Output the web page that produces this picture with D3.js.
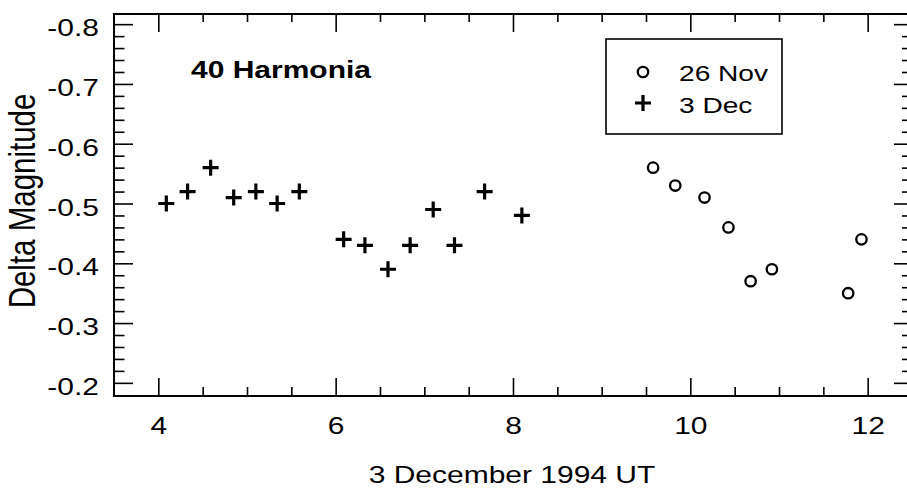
<!DOCTYPE html>
<meta charset="utf-8">
<script src="https://d3js.org/d3.v7.min.js"></script>
<body style="margin:0;background:#fff;">
<svg width="907" height="489"></svg>
<style type="text/css">
svg text{
    font-family: 'Liberation Sans', Arial, Helvetica, sans-serif;
    fill: #000;
}
.tick line{
    stroke: #000;
    stroke-width: 1.6;
}
</style>
<script>
    // 3 Dec 1994 session (plus signs)
    const HOURS_DEC3 = [4.09, 4.33, 4.59, 4.85, 5.10, 5.34, 5.59, 6.09, 6.33, 6.59, 6.84, 7.10, 7.34, 7.68, 8.10];
    const MAG_DEC3   = [-0.50, -0.52, -0.56, -0.51, -0.52, -0.50, -0.52, -0.44, -0.43, -0.39, -0.43, -0.49, -0.43, -0.52, -0.48];
    // 26 Nov 1994 session (open circles)
    const HOURS_NOV26 = [9.58, 9.83, 10.16, 10.43, 10.68, 10.92, 11.78, 11.93];
    const MAG_NOV26   = [-0.56, -0.53, -0.51, -0.46, -0.37, -0.39, -0.35, -0.44];

    const X_TICKS = [4, 6, 8, 10, 12];
    const Y_TICKS = [-0.8, -0.7, -0.6, -0.5, -0.4, -0.3, -0.2];
    const LEGEND = ['26 Nov', '3 Dec'];
    const TITLE = '40 Harmonia';
    const X_LABEL = '3 December 1994 UT';
    const Y_LABEL = 'Delta Magnitude';

    const X_DOMAIN = [3.5, 12.5],
        Y_DOMAIN = [-0.178, -0.817];

    const X_MINOR = d3.range(4.5, 12.01, 0.5).filter(v => X_TICKS.indexOf(v) < 0);
    const Y_MINOR = d3.range(-0.78, -0.21, 0.02).map(v => Math.round(v*100)/100)
        .filter(v => Math.abs(v*10 - Math.round(v*10)) > 1e-6);

    var pLeft = 114, pRight = 912, pTop = 14, pBottom = 396,
        stretch = 'scale(1.25,1)';  // glyphs in the scan are wide

    var x = d3.scaleLinear().domain(X_DOMAIN).range([pLeft, pRight]);
    var y = d3.scaleLinear().domain(Y_DOMAIN).range([pBottom, pTop]);

    var svg = d3.select('svg');

    /* ----------- ticks ----------- */
    function minor(axis, vals, size){
        return axis.tickValues(vals).tickSize(size).tickFormat('');
    }
    function clean(g){
        g.select('.domain').remove();
        g.selectAll('text').filter(function(){ return this.textContent === ''; }).remove();
    }

    // bottom
    svg.append('g').attr('transform', `translate(0,${pBottom})`)
        .call(minor(d3.axisBottom(x), X_MINOR, -9)).call(clean);
    svg.append('g').attr('class', 'xaxis').attr('transform', `translate(0,${pBottom})`)
        .call(d3.axisBottom(x).tickValues(X_TICKS).tickSize(-18).tickFormat(d => d))
        .call(clean);
    d3.selectAll('.xaxis text')
        .attr('y', 38).attr('dy', null)
        .attr('transform', stretch)
        .style('font-size', '24px');
    // top
    svg.append('g').attr('transform', `translate(0,${pTop})`)
        .call(minor(d3.axisTop(x), X_MINOR, -8)).call(clean);
    svg.append('g').attr('transform', `translate(0,${pTop})`)
        .call(d3.axisTop(x).tickValues(X_TICKS).tickSize(-18).tickFormat('')).call(clean);
    // left
    svg.append('g').attr('transform', `translate(${pLeft},0)`)
        .call(minor(d3.axisLeft(y), Y_MINOR, -10.5)).call(clean);
    svg.append('g').attr('class', 'yaxis').attr('transform', `translate(${pLeft},0)`)
        .call(d3.axisLeft(y).tickValues(Y_TICKS).tickSize(-19).tickFormat(d => d.toFixed(1)))
        .call(clean);
    d3.selectAll('.yaxis text')
        .attr('x', -12).attr('y', 11.5).attr('dy', null)
        .attr('transform', stretch)
        .style('font-size', '24px');
    // right
    svg.append('g').attr('transform', `translate(${pRight},0)`)
        .call(minor(d3.axisRight(y), Y_MINOR, -10)).call(clean);
    svg.append('g').attr('transform', `translate(${pRight},0)`)
        .call(d3.axisRight(y).tickValues(Y_TICKS).tickSize(-18).tickFormat('')).call(clean);

    /* ----------- frame ----------- */
    svg.append('rect')
        .attr('x', pLeft).attr('y', pTop)
        .attr('width', pRight - pLeft).attr('height', pBottom - pTop)
        .attr('fill', 'none').attr('stroke', '#000').attr('stroke-width', 2);

    /* ----------- points ----------- */
    const plus = 'M-8,0H8M0,-8V8';
    svg.selectAll('path.dec3')
        .data(HOURS_DEC3.map((h, i) => ({h: h, m: MAG_DEC3[i]})))
        .enter().append('path')
        .attr('class', 'dec3')
        .attr('d', plus)
        .attr('transform', d => `translate(${x(d.h)},${y(d.m)})`)
        .attr('stroke', '#000').attr('stroke-width', 3.2);

    svg.selectAll('circle.nov26')
        .data(HOURS_NOV26.map((h, i) => ({h: h, m: MAG_NOV26[i]})))
        .enter().append('circle')
        .attr('class', 'nov26')
        .attr('cx', d => x(d.h)).attr('cy', d => y(d.m))
        .attr('r', 5.2)
        .attr('fill', 'none').attr('stroke', '#000').attr('stroke-width', 2.3);

    /* ----------- labels ----------- */
    svg.append('text')
        .attr('transform', `translate(191,78) ${stretch}`)
        .style('font-size', '24px').style('font-weight', 'bold')
        .text(TITLE);

    svg.append('text')
        .attr('transform', `translate(${(pLeft + pRight) / 2 - 1},483) ${stretch}`)
        .attr('text-anchor', 'middle')
        .style('font-size', '24px')
        .text(X_LABEL);

    svg.append('text')
        .attr('transform', `translate(35,${(pTop + pBottom) / 2 - 4}) ${stretch} rotate(-90)`)
        .attr('text-anchor', 'middle')
        .style('font-size', '29.5px')
        .text(Y_LABEL);

    /* ----------- legend ----------- */
    var legend = svg.append('g');
    legend.append('rect')
        .attr('x', 606).attr('y', 39).attr('width', 176).attr('height', 95)
        .attr('fill', '#fff').attr('stroke', '#000').attr('stroke-width', 1.6);
    legend.append('circle')
        .attr('cx', 643).attr('cy', 72).attr('r', 5.2)
        .attr('fill', 'none').attr('stroke', '#000').attr('stroke-width', 2.3);
    legend.append('path')
        .attr('d', plus).attr('transform', 'translate(643,103)')
        .attr('stroke', '#000').attr('stroke-width', 3.2);
    legend.selectAll('text.leg').data(LEGEND)
        .enter().append('text')
        .attr('class', 'leg')
        .attr('transform', (d, i) => `translate(679,${81 + i * 31.5}) ${stretch}`)
        .style('font-size', '22.5px')
        .text(d => d);
</script>
</body>
